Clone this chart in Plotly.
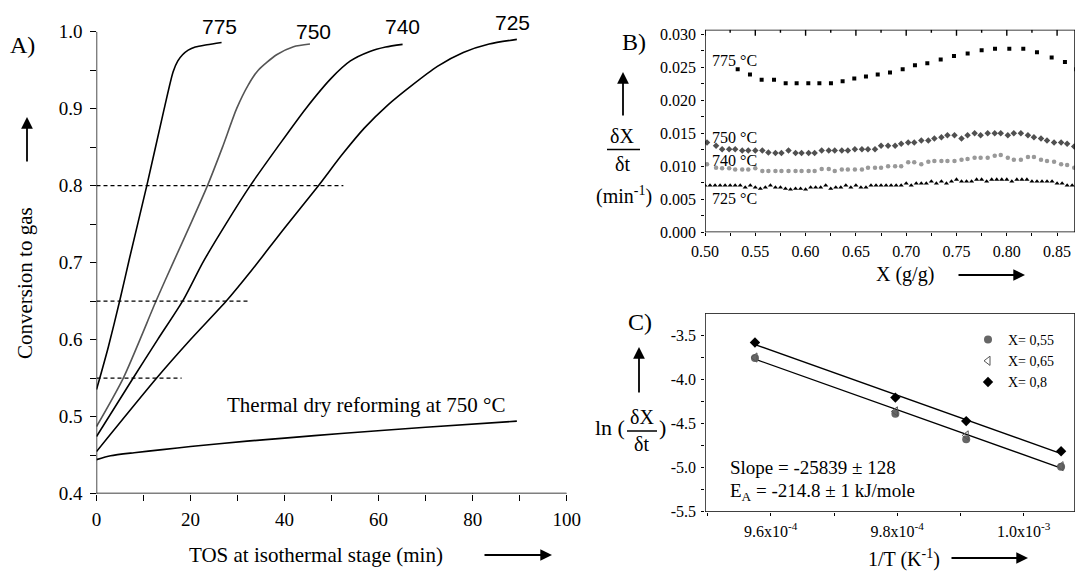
import plotly.graph_objects as go
import numpy as np

W, H = 1076, 571
SERIF = "Liberation Serif"
SANS = "Liberation Sans"

# ---------------- Panel A data ----------------
t775 = [0, 0.7, 2.5, 5.0, 7.0, 10.7, 14.4, 16.3, 17.3, 18.3, 19.5, 21.0, 23.5, 26.6]
c775 = [0.535, 0.55, 0.59, 0.652, 0.705, 0.80, 0.90, 0.948, 0.962, 0.970, 0.976, 0.980, 0.983, 0.986]
t750 = [0, 5.7, 12.8, 16.3, 20.0, 23.6, 26.8, 29.8, 32.2, 34.4, 38.3, 41.9, 45.4]
c750 = [0.487, 0.55, 0.652, 0.70, 0.75, 0.80, 0.85, 0.90, 0.93, 0.95, 0.970, 0.9805, 0.984]
t740 = [0, 7.8, 13.0, 18.5, 22.6, 27.5, 32.7, 38.5, 44.5, 50.0, 54.0, 58.0, 61.5, 65.1]
c740 = [0.474, 0.55, 0.60, 0.652, 0.70, 0.75, 0.80, 0.85, 0.90, 0.94, 0.962, 0.974, 0.980, 0.9835]
t725 = [0, 12.8, 20.0, 27.6, 33.0, 40.0, 47.2, 52.2, 57.0, 62.0, 67.0, 72.5, 78.0, 83.5, 89.4]
c725 = [0.4545, 0.55, 0.60, 0.65, 0.69, 0.745, 0.80, 0.84, 0.875, 0.905, 0.93, 0.955, 0.973, 0.984, 0.990]
t_th = [0, 3, 8, 14, 20, 32, 40, 52, 70, 89.4]
c_th = [0.444, 0.449, 0.453, 0.457, 0.461, 0.468, 0.472, 0.478, 0.486, 0.494]
ref_levels = [0.80, 0.65, 0.55]
ref_ends = [52.5, 32.3, 18.1]
curve_labels = ["775", "750", "740", "725"]
a_xticks = [0, 20, 40, 60, 80, 100]
a_yticks = [0.4, 0.5, 0.6, 0.7, 0.8, 0.9, 1.0]

# ---------------- Panel B data ----------------
xb775 = [0.5325, 0.5447, 0.5563, 0.5686, 0.5802, 0.5911, 0.6027, 0.6137, 0.6252, 0.6368, 0.6484, 0.660,
         0.6717, 0.6839, 0.6965, 0.7087, 0.721, 0.7343, 0.7475, 0.7611, 0.775, 0.7883, 0.8025, 0.8164,
         0.830, 0.8446, 0.8578, 0.869]
yb775 = [0.0247, 0.0239, 0.0231, 0.0231, 0.0226, 0.0226, 0.0226, 0.0226, 0.0226, 0.0229, 0.0233, 0.0236,
         0.0239, 0.0242, 0.0247, 0.0253, 0.0256, 0.0262, 0.0267, 0.0271, 0.0276, 0.0278, 0.0278, 0.0278,
         0.0273, 0.0265, 0.0258, 0.0247]
xb75 = [0.502, 0.511, 0.517, 0.524, 0.530, 0.537, 0.543, 0.550, 0.557, 0.563, 0.570, 0.576, 0.583, 0.590,
        0.596, 0.603, 0.609, 0.616, 0.623, 0.629, 0.636, 0.642, 0.649, 0.656, 0.662, 0.669, 0.675, 0.682,
        0.689, 0.695, 0.702, 0.708, 0.715, 0.722, 0.728, 0.735, 0.741, 0.748, 0.755, 0.761, 0.768, 0.774,
        0.781, 0.788, 0.794, 0.801, 0.807, 0.814, 0.821, 0.827, 0.834, 0.840, 0.847, 0.854, 0.860, 0.867]
yb750 = [0.0136, 0.0131, 0.0126, 0.0126, 0.0126, 0.0124, 0.0124, 0.0124, 0.0124, 0.0121, 0.0120, 0.0120,
         0.0124, 0.0120, 0.0120, 0.0120, 0.0120, 0.0124, 0.0124, 0.0124, 0.0124, 0.0124, 0.0126, 0.0126,
         0.0126, 0.0126, 0.0131, 0.0131, 0.0131, 0.0134, 0.0136, 0.0136, 0.0139, 0.0139, 0.0142, 0.0144,
         0.0147, 0.0147, 0.0142, 0.0147, 0.0150, 0.0147, 0.0150, 0.0150, 0.0150, 0.0147, 0.0150, 0.0150,
         0.0147, 0.0144, 0.0142, 0.0139, 0.0136, 0.0136, 0.0134, 0.0130]
yb740 = [0.0103, 0.0098, 0.0097, 0.0097, 0.0095, 0.0095, 0.0095, 0.0097, 0.0093, 0.0093, 0.0093, 0.0093,
         0.0093, 0.0093, 0.0093, 0.0093, 0.0093, 0.0096, 0.0096, 0.0093, 0.0095, 0.0095, 0.0095, 0.0095,
         0.0098, 0.0098, 0.0098, 0.0100, 0.0100, 0.0100, 0.0106, 0.0106, 0.0103, 0.0107, 0.0108, 0.0108,
         0.0108, 0.0108, 0.0110, 0.0111, 0.0113, 0.0113, 0.0113, 0.0116, 0.0117, 0.0113, 0.0110, 0.0110,
         0.0114, 0.0114, 0.0110, 0.0108, 0.0107, 0.0103, 0.0102, 0.0098]
xb725 = [0.500, 0.505, 0.510, 0.515, 0.520, 0.525, 0.530, 0.535, 0.540, 0.545, 0.550, 0.555, 0.560, 0.565,
         0.570, 0.575, 0.580, 0.585, 0.590, 0.595, 0.600, 0.605, 0.610, 0.615, 0.620, 0.625, 0.630, 0.635,
         0.640, 0.645, 0.650, 0.655, 0.660, 0.665, 0.670, 0.675, 0.680, 0.685, 0.690, 0.695, 0.700, 0.705,
         0.710, 0.715, 0.720, 0.725, 0.730, 0.735, 0.740, 0.745, 0.750, 0.755, 0.760, 0.765, 0.770, 0.775,
         0.780, 0.785, 0.790, 0.795, 0.800, 0.805, 0.810, 0.815, 0.820, 0.825, 0.830, 0.835, 0.840, 0.845,
         0.850, 0.855, 0.860, 0.865, 0.870]
yb725 = [0.0071, 0.0071, 0.0071, 0.0071, 0.0071, 0.0071, 0.0071, 0.0071, 0.0068, 0.0071, 0.0068, 0.0066,
         0.0068, 0.0071, 0.0068, 0.0068, 0.0066, 0.0065, 0.0066, 0.0066, 0.0065, 0.0068, 0.0068, 0.0068,
         0.0071, 0.0066, 0.0068, 0.0068, 0.0071, 0.0068, 0.0071, 0.0068, 0.0068, 0.0071, 0.0071, 0.0071,
         0.0071, 0.0071, 0.0071, 0.0071, 0.0074, 0.0071, 0.0074, 0.0074, 0.0074, 0.0077, 0.0074, 0.0077,
         0.0074, 0.0077, 0.0080, 0.0077, 0.0077, 0.0077, 0.0080, 0.0080, 0.0077, 0.0080, 0.0080, 0.0080,
         0.0080, 0.0077, 0.0080, 0.0080, 0.0080, 0.0077, 0.0077, 0.0077, 0.0077, 0.0077, 0.0074, 0.0074,
         0.0071, 0.0071, 0.0071]
b_labels = ["775 °C", "750 °C", "740 °C", "725 °C"]
b_xticks = [0.50, 0.55, 0.60, 0.65, 0.70, 0.75, 0.80, 0.85]
b_xminor = [0.525, 0.575, 0.625, 0.675, 0.725, 0.775, 0.825]
b_yticks = [0.0, 0.005, 0.010, 0.015, 0.020, 0.025, 0.030]

# ---------------- Panel C data ----------------
invT = [9.575e-4, 9.797e-4, 9.909e-4, 1.0059e-3]
ln055 = [-3.76, -4.39, -4.68, -4.99]
ln065 = [-3.754, -4.364, -4.636, -4.985]
ln080 = [-3.583, -4.208, -4.474, -4.815]
c_legend = ["X= 0,55", "X= 0,65", "X= 0,8"]
c_xticks = [9.6e-4, 9.8e-4, 1.0e-3]
c_xticktext = ["9.6x10<sup>-4</sup>", "9.8x10<sup>-4</sup>", "1.0x10<sup>-3</sup>"]
c_yticks = [-5.5, -5.0, -4.5, -4.0, -3.5]
c_yticktext = ["-5.5", "-5.0", "-4.5", "-4.0", "-3.5"]

# ---------------- layout geometry (pixels) ----------------
A_BOX = (96.5, 566.7, 31.7, 493.5)      # left, right, top, bottom
B_BOX = (705.0, 1075.0, 29.7, 232.3)
C_BOX = (705.0, 1075.0, 313.3, 511.7)
A_XR, A_YR = (0, 100), (0.4, 1.0)
B_XR, B_YR = (0.5, 0.8678), (0, 0.0307)
C_XR, C_YR = (9.496e-4, 1.0081e-3), (-5.5, -3.253)


def P(x):
    return x / W


def Q(y):
    return 1 - y / H


fig = go.Figure()

# Panel A traces
for t, c, col in [(t775, c775, "black"), (t750, c750, "#555555"), (t740, c740, "black"),
                  (t725, c725, "black"), (t_th, c_th, "black")]:
    fig.add_trace(go.Scatter(x=t, y=c, mode="lines", line=dict(color=col, width=1.6, shape="spline", smoothing=0.7),
                             xaxis="x", yaxis="y", showlegend=False, hoverinfo="skip"))
for lev, end in zip(ref_levels, ref_ends):
    fig.add_trace(go.Scatter(x=[0, end], y=[lev, lev], mode="lines",
                             line=dict(color="black", width=1.3, dash="4px,3px"),
                             xaxis="x", yaxis="y", showlegend=False, hoverinfo="skip"))

# Panel B traces
fig.add_trace(go.Scatter(x=xb775, y=yb775, mode="markers", marker=dict(symbol="square", size=4, color="black"),
                         xaxis="x2", yaxis="y2", showlegend=False, hoverinfo="skip"))
fig.add_trace(go.Scatter(x=xb75, y=yb750, mode="markers", marker=dict(symbol="diamond", size=5, color="#505050"),
                         xaxis="x2", yaxis="y2", showlegend=False, hoverinfo="skip"))
fig.add_trace(go.Scatter(x=xb75, y=yb740, mode="markers", marker=dict(symbol="circle", size=4.5, color="#999999"),
                         xaxis="x2", yaxis="y2", showlegend=False, hoverinfo="skip"))
fig.add_trace(go.Scatter(x=xb725, y=yb725, mode="markers", marker=dict(symbol="triangle-up", size=4.5, color="black"),
                         xaxis="x2", yaxis="y2", showlegend=False, hoverinfo="skip"))

# Panel C traces: fit lines
xs = np.array(invT)
for yv in [ln080, ln065]:
    k, b = np.polyfit(xs, np.array(yv), 1)
    xl = np.array([xs.min(), xs.max()])
    fig.add_trace(go.Scatter(x=xl, y=k * xl + b, mode="lines", line=dict(color="black", width=1.3),
                             xaxis="x3", yaxis="y3", showlegend=False, hoverinfo="skip"))
fig.add_trace(go.Scatter(x=invT, y=ln055, mode="markers", name=c_legend[0],
                         marker=dict(symbol="circle", size=8, color="#666666"), xaxis="x3", yaxis="y3"))
fig.add_trace(go.Scatter(x=invT, y=ln065, mode="markers", name=c_legend[1],
                         marker=dict(symbol="triangle-left-open", size=8, color="#555555", line=dict(width=1)),
                         xaxis="x3", yaxis="y3"))
fig.add_trace(go.Scatter(x=invT, y=ln080, mode="markers", name=c_legend[2],
                         marker=dict(symbol="diamond", size=8, color="black"), xaxis="x3", yaxis="y3"))


# ---- axis frames + major ticks as line traces built from the axis ranges and tick lists ----
def axis_frame(xa, ya, box, xr, yr, xt, yt, ln, sides, top_in=(), top_in_minor=(), ln_minor=3):
    wpx, hpx = box[1] - box[0], box[3] - box[2]
    dx = ln * (xr[1] - xr[0]) / wpx
    dy = ln * (yr[1] - yr[0]) / hpx
    dym = ln_minor * (yr[1] - yr[0]) / hpx
    X, Y = [], []
    if "left" in sides:
        X += [xr[0], xr[0], None]; Y += [yr[0] - dy * 0.05, yr[1], None]
    if "bottom" in sides:
        X += [xr[0], xr[1], None]; Y += [yr[0], yr[0], None]
    if "top" in sides:
        X += [xr[0], xr[1], None]; Y += [yr[1], yr[1], None]
    if "right" in sides:
        X += [xr[1], xr[1], None]; Y += [yr[0], yr[1], None]
    for v in xt:
        X += [v, v, None]; Y += [yr[0], yr[0] - dy, None]
    for v in yt:
        X += [xr[0], xr[0] - dx, None]; Y += [v, v, None]
    for v in top_in:
        X += [v, v, None]; Y += [yr[1], yr[1] - dy, None]
    for v in top_in_minor:
        X += [v, v, None]; Y += [yr[1], yr[1] - dym, None]
    fig.add_trace(go.Scatter(x=X, y=Y, mode="lines", line=dict(color="black", width=1.4),
                             xaxis=xa, yaxis=ya, showlegend=False, hoverinfo="skip", cliponaxis=False,
                             connectgaps=False))


axis_frame("x", "y", A_BOX, A_XR, A_YR, a_xticks, a_yticks, 10, ["left", "bottom"])
axis_frame("x2", "y2", B_BOX, B_XR, B_YR, b_xticks, b_yticks, 6, ["left", "bottom", "top", "right"],
           top_in=b_xticks, top_in_minor=b_xminor)
axis_frame("x3", "y3", C_BOX, C_XR, C_YR, c_xticks, c_yticks, 6, ["left", "bottom", "top", "right"])

# native axes: labels + minor ticks only, placed below traces
axcommon = dict(showgrid=False, zeroline=False, showline=False, ticks="", automargin=False,
                layer="below traces")


def mnr(d, ln):
    return dict(dtick=d, ticks="outside", ticklen=ln, tickcolor="black", tickwidth=1)


def dom_x(box):
    return [P(box[0]), P(box[1])]


def dom_y(box):
    return [Q(box[3]), Q(box[2])]


fig.update_layout(
    width=W, height=H, margin=dict(l=0, r=0, t=0, b=0),
    paper_bgcolor="white", plot_bgcolor="white",
    font=dict(family=SERIF, color="black"),
    xaxis=dict(domain=dom_x(A_BOX), range=list(A_XR), tickvals=a_xticks, ticklabelstandoff=12, minor=mnr(10, 6),
               tickfont=dict(family=SERIF, size=19, color="black"), anchor="y", **axcommon),
    yaxis=dict(domain=dom_y(A_BOX), range=list(A_YR), tickvals=a_yticks, tickformat=".1f", ticklabelstandoff=13,
               minor=mnr(0.05, 6), tickfont=dict(family=SERIF, size=19, color="black"), anchor="x", **axcommon),
    xaxis2=dict(domain=dom_x(B_BOX), range=list(B_XR), tickvals=b_xticks, tickformat=".2f", ticklabelstandoff=8,
                minor=mnr(0.025, 3), tickfont=dict(family=SERIF, size=16, color="black"), anchor="y2", **axcommon),
    yaxis2=dict(domain=dom_y(B_BOX), range=list(B_YR), tickvals=b_yticks, tickformat=".3f", ticklabelstandoff=8,
                minor=mnr(0.0025, 3), tickfont=dict(family=SERIF, size=16, color="black"), anchor="x2", **axcommon),
    xaxis3=dict(domain=dom_x(C_BOX), range=list(C_XR), tickvals=c_xticks, ticktext=c_xticktext,
                ticklabelstandoff=8, minor=mnr(1e-5, 3),
                tickfont=dict(family=SERIF, size=16, color="black"), anchor="y3", **axcommon),
    yaxis3=dict(domain=dom_y(C_BOX), range=list(C_YR), tickvals=c_yticks, ticktext=c_yticktext,
                ticklabelstandoff=8, minor=mnr(0.25, 3),
                tickfont=dict(family=SERIF, size=16, color="black"), anchor="x3", **axcommon),
    legend=dict(x=P(968), y=Q(324), xanchor="left", yanchor="top", bgcolor="rgba(0,0,0,0)",
                font=dict(family=SERIF, size=14), tracegroupgap=0, itemwidth=30),
)

ann = []


def txt(x, y, s, size, family=SERIF, xanchor="center", yanchor="middle", angle=0):
    ann.append(dict(x=P(x), y=Q(y), xref="paper", yref="paper", text=s, showarrow=False,
                    font=dict(family=family, size=size, color="black"), xanchor=xanchor,
                    yanchor=yanchor, textangle=angle))


def arrow(xh, yh, ax, ay):
    ann.append(dict(x=P(xh), y=Q(yh), xref="paper", yref="paper", text="", showarrow=True,
                    ax=ax, ay=ay, arrowhead=2, arrowsize=1.3, arrowwidth=1.8, arrowcolor="black"))


# Panel A
txt(22, 45, "A)", 24)
for s, (x, y) in zip(curve_labels, [(219, 26), (313, 31), (402, 27), (512, 23)]):
    txt(x, y, s, 21, family=SANS)
txt(225, 405, "Thermal dry reforming at 750 °C", 21, xanchor="left")
txt(25, 283, "Conversion to gas", 21, angle=-90)
txt(316, 555, "TOS at isothermal stage (min)", 21)
arrow(27, 117, 0, 46)
arrow(552, 555, -69, 0)

# Panel B
txt(634, 42, "B)", 24)
arrow(623, 72, 0, 45)
txt(622, 136, "δX", 20)
txt(622, 164, "δt", 20)
txt(624, 195, "(min<sup>-1</sup>)", 20)
for s, y in zip(b_labels, [61, 137.5, 160, 199]):
    txt(710, y, s, 16, xanchor="left")
txt(905, 275, "X (g/g)", 20)
arrow(1025, 275, -68, 0)

# Panel C
txt(640, 322, "C)", 24)
arrow(639, 347, 0, 47)
txt(627, 427, "ln (", 22, xanchor="right")
txt(642, 417, "δX", 20)
txt(641, 444, "δt", 20)
txt(657, 427, ")", 22, xanchor="left")
txt(728, 467, "Slope = -25839 ± 128", 19, xanchor="left")
txt(728, 492, "E<sub>A</sub> = -214.8 ± 1 kJ/mole", 19, xanchor="left")
txt(904, 558, "1/T (K<sup>-1</sup>)", 20)
arrow(1028, 558, -78, 0)

fig.update_layout(annotations=ann, shapes=[
    dict(type="line", xref="paper", yref="paper", x0=P(607), x1=P(640), y0=Q(149.5), y1=Q(149.5),
         line=dict(color="black", width=1.5)),
    dict(type="line", xref="paper", yref="paper", x0=P(627), x1=P(657), y0=Q(431), y1=Q(431),
         line=dict(color="black", width=1.5)),
])

fig.write_html("out.html")
